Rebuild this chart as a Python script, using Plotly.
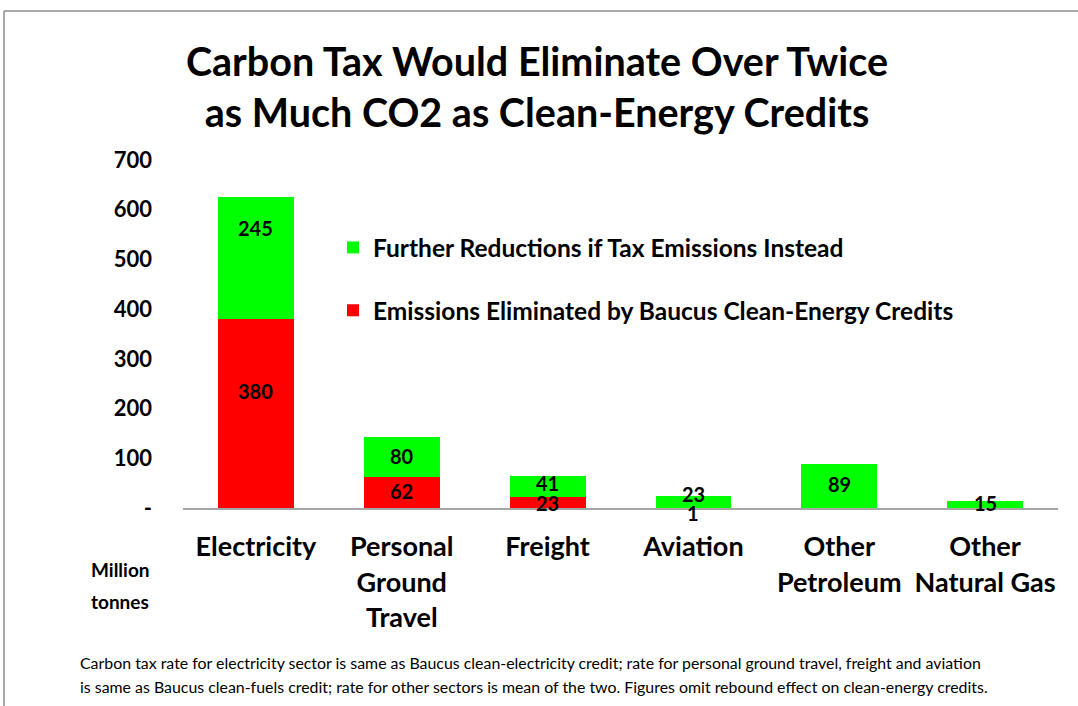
import plotly.graph_objects as go

categories = ["Electricity", "Personal<br>Ground<br>Travel", "Freight", "Aviation",
              "Other<br>Petroleum", "Other<br>Natural Gas"]
credits_eliminated = [380, 62, 23, 1, 0, 0]
further_reductions = [245, 80, 41, 23, 89, 15]
y_tickvals = [0, 100, 200, 300, 400, 500, 600, 700]
y_ticktext = ["-", "100", "200", "300", "400", "500", "600", "700"]

FONT = "Lato"
RED = "#FF0000"
GREEN = "#00FF00"

# plot area geometry (px)
L, R, T, B = 183, 1058, 160, 508
W, H = 1078, 706
pw, ph = R - L, B - T
YMAX = 700
def px(x): return (x - L) / pw
def py(y): return (B - y) / ph
units_per_px = YMAX / ph

fig = go.Figure()
fig.add_trace(go.Bar(
    x=categories, y=credits_eliminated, name="Emissions Eliminated by Baucus Clean-Energy Credits",
    marker=dict(color=RED, line=dict(width=0)), legendrank=2, legendgroup="red", hoverinfo="x+y",
))
fig.add_trace(go.Bar(
    x=categories, y=further_reductions, name="Further Reductions if Tax Emissions Instead",
    marker=dict(color=GREEN, line=dict(width=0)), legendrank=1, legendgroup="green", hoverinfo="x+y",
))

# data labels: anchored at the centre of each segment, pushed apart (in px) when
# two labels of a column would collide
label_shift_px = {"Electricity": (21, 29)}   # manual nudges seen in the original (red, green)
base_shift_px = 1.5
min_sep_px = 19.5
for c, r, g in zip(categories, credits_eliminated, further_reductions):
    rm, gm = r / 2, r + g / 2
    dr = dg = 0.0
    gap_px = (gm - rm) / units_per_px
    if r > 0 and g > 0 and gap_px < min_sep_px:
        push = (min_sep_px - gap_px) / 2
        dr, dg = -push, push
    sr, sg = label_shift_px.get(c, (0, 0))
    for v, pos, sh in ((r, rm, dr + sr), (g, gm, dg + sg)):
        if v > 0:
            fig.add_annotation(x=c, y=pos, xref="x", yref="y", text=f"<b>{v}</b>",
                               yshift=sh + base_shift_px, showarrow=False,
                               xanchor="center", yanchor="middle",
                               font=dict(family=FONT, size=20, color="black"))

fig.update_layout(
    width=W, height=H,
    margin=dict(l=L, r=W - R, t=T, b=H - B),
    barmode="stack", bargap=0.48,
    plot_bgcolor="white", paper_bgcolor="white",
    font=dict(family=FONT, color="black"),
    title=dict(
        text="<b>Carbon Tax Would Eliminate Over Twice<br>as Much CO2 as Clean-Energy Credits</b>",
        font=dict(family=FONT, size=39.5, color="black"),
        x=537 / W, xanchor="center", xref="container",
        y=1 - 76 / H, yanchor="middle", yref="container",
    ),
    legend=dict(
        x=px(333), y=py(225), xanchor="left", yanchor="top",
        traceorder="grouped", tracegroupgap=28,
        font=dict(family=FONT, size=24.5, color="black", weight="bold"),
        bgcolor="rgba(0,0,0,0)",
    ),
    xaxis=dict(
        showline=True, linecolor="#A6A6A6", linewidth=2, showgrid=False,
        ticks="", tickfont=dict(family=FONT, size=27, color="black", weight="bold"),
        ticklabelstandoff=14,
    ),
    yaxis=dict(
        range=[0, YMAX], tickvals=y_tickvals, ticktext=y_ticktext,
        showgrid=False, zeroline=False, showline=False, ticks="",
        tickfont=dict(family=FONT, size=22, color="black", weight="bold"),
        ticklabelstandoff=30,
    ),
)

# million tonnes label
for txt, yy in (("Million", 569), ("tonnes", 601)):
    fig.add_annotation(text=f"<b>{txt}</b>", x=px(120), y=py(yy), xref="paper", yref="paper",
                       xanchor="center", yanchor="middle", showarrow=False,
                       font=dict(family=FONT, size=19, color="black"))

# footnote
notes = [
    "Carbon tax rate for electricity sector is same as Baucus clean-electricity credit; rate for personal ground travel, freight and aviation",
    "is same as Baucus clean-fuels credit; rate for other sectors is mean of the two. Figures omit rebound effect on clean-energy credits.",
]
for i, n in enumerate(notes):
    fig.add_annotation(text=n, x=px(78), y=py(662 + 24 * i), xref="paper", yref="paper",
                       xanchor="left", yanchor="middle", showarrow=False,
                       font=dict(family=FONT, size=15.9, color="black"))

# chart-area border (top and left visible)
fig.add_shape(type="line", xref="paper", yref="paper", x0=px(4), x1=px(1080), y0=py(11), y1=py(11),
              line=dict(color="#8C8C8C", width=1.5))
fig.add_shape(type="line", xref="paper", yref="paper", x0=px(4), x1=px(4), y0=py(11), y1=py(710),
              line=dict(color="#8C8C8C", width=1.5))

fig.write_html("out.html")
